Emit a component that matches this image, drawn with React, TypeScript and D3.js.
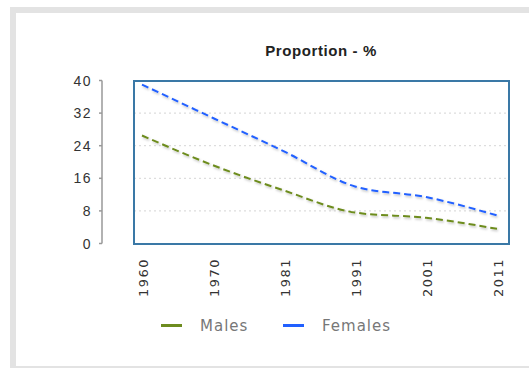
import React from "react";
import * as d3 from "d3";

const years = ["1960", "1970", "1981", "1991", "2001", "2011"];
const males = [26.5, 19.2, 13.0, 7.6, 6.3, 3.6];
const females = [39.0, 30.8, 22.6, 14.0, 11.4, 6.9];
const yTicks = [0, 8, 16, 24, 32, 40];
const seriesNames = ["Males", "Females"];
const seriesColors = ["#6d8c1f", "#2160ff"];

export default function App() {
  const W = 529, H = 368;
  const box = { x0: 134, x1: 509, y0: 81, y1: 244 };
  const x = d3.scalePoint<string>().domain(years).range([box.x0 + 8, box.x1 - 12]);
  const y = d3.scaleLinear().domain([0, 40]).range([box.y1 - 0.5, box.y0 - 0.5]);
  const line = d3
    .line<number>()
    .x((_, i) => x(years[i]) as number)
    .y((d) => y(d))
    .curve(d3.curveMonotoneX);
  const series = [males, females];
  const axisX = 102;
  const legendX = [161, 283];

  return (
    <svg width={W} height={H} style={{ position: "absolute", left: 0, top: 0 }}>
      <defs>
        <filter id="sh" x="-10%" y="-10%" width="120%" height="140%">
          <feDropShadow dx="1" dy="1.5" stdDeviation="1" floodColor="#000" floodOpacity="0.25" />
        </filter>
      </defs>
      <rect x={0} y={0} width={W} height={H} fill="#fff" />
      <rect x={10} y={7} width={540} height={370} fill="#e3e3e3" />
      <rect x={16} y={13} width={530} height={353} fill="#fff" />
      <text
        x={321}
        y={56}
        textAnchor="middle"
        fontFamily="Liberation Sans, Arial, sans-serif"
        fontWeight="bold"
        fontSize={15}
        letterSpacing={0.6}
        fill="#222"
      >
        Proportion - %
      </text>
      {/* y axis */}
      <line x1={axisX} x2={axisX} y1={y(40)} y2={y(0)} stroke="#999" strokeWidth={1.5} />
      {yTicks.map((t) => (
        <g key={t}>
          <line x1={axisX - 3} x2={axisX} y1={y(t)} y2={y(t)} stroke="#999" strokeWidth={1.5} />
          <text
            x={92}
            y={y(t)}
            dy="0.36em"
            textAnchor="end"
            fontFamily="Liberation Sans, Arial, sans-serif"
            fontSize={14}
            letterSpacing={1.5}
            fill="#333"
          >
            {t}
          </text>
        </g>
      ))}
      {/* gridlines */}
      {yTicks
        .filter((t) => t > 0 && t < 40)
        .map((t) => (
          <line
            key={"g" + t}
            x1={box.x0}
            x2={box.x1}
            y1={y(t)}
            y2={y(t)}
            stroke="#ddd"
            strokeWidth={1.2}
            strokeDasharray="2,3"
          />
        ))}
      {/* series */}
      {series.map((s, i) => (
        <path
          key={seriesNames[i]}
          d={line(s) as string}
          fill="none"
          stroke={seriesColors[i]}
          strokeWidth={2}
          strokeDasharray="7,4"
          filter="url(#sh)"
        />
      ))}
      <rect
        x={box.x0}
        y={box.y0}
        width={box.x1 - box.x0}
        height={box.y1 - box.y0}
        fill="none"
        stroke="#3a78a6"
        strokeWidth={2}
      />
      {/* x labels */}
      {years.map((yr) => (
        <text
          key={yr}
          transform={`translate(${(x(yr) as number) + 1},258) rotate(-90)`}
          dy="0.36em"
          textAnchor="end"
          fontFamily="DejaVu Sans, sans-serif"
          fontSize={13}
          letterSpacing={1.5}
          fill="#333"
        >
          {yr}
        </text>
      ))}
      {/* legend */}
      {seriesNames.map((n, i) => (
        <g key={n}>
          <line
            x1={legendX[i]}
            x2={legendX[i] + 21}
            y1={325.5}
            y2={325.5}
            stroke={seriesColors[i]}
            strokeWidth={3}
          />
          <text
            x={legendX[i] + 39}
            y={330.5}
            fontFamily="DejaVu Sans, sans-serif"
            fontSize={15}
            letterSpacing={1}
            fill="#777"
          >
            {n}
          </text>
        </g>
      ))}
    </svg>
  );
}
